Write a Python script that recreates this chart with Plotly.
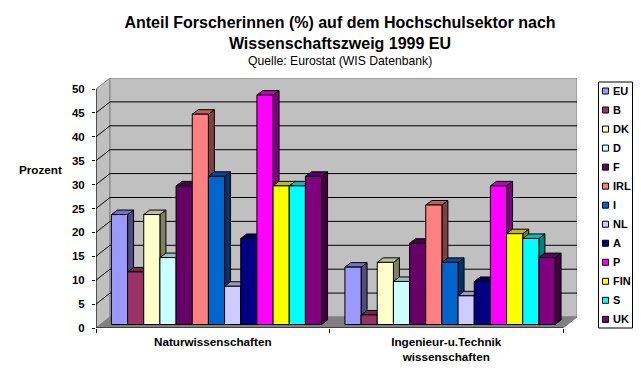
import plotly.graph_objects as go

CATEGORIES = ["Naturwissenschaften", "Ingenieur-u.Technik<br>wissenschaften"]
COUNTRIES = ["EU", "B", "DK", "D", "F", "IRL", "I", "NL", "A", "P", "FIN", "S", "UK"]
NATUR = [23, 11, 23, 14, 29, 44, 31, 8, 18, 48, 29, 29, 31]
INGENIEUR = [12, 2, 13, 9, 17, 25, 13, 6, 9, 29, 19, 18, 14]
COLORS = ["#9999FF", "#993366", "#FFFFCC", "#CCFFFF", "#660066", "#FF8080", "#0066CC",
          "#CCCCFF", "#000080", "#FF00FF", "#FFFF00", "#00FFFF", "#800080"]
Y_TICKS = list(range(0, 55, 5))

W, H = 641, 374
L, R, T, B = 96, 577, 78, 328
PX_X = 233.5            # pixels per category
PX_Y = 4.78             # pixels per percent
X_MAX = (R - L) / PX_X
Y_MAX = (B - T) / PX_Y
WALL_DX, WALL_DY = 14 / PX_X, 11 / PX_Y
BAR_DX, BAR_DY = 6 / PX_X, 4.5 / PX_Y
BASE = 3.5 / PX_Y
GROUP_SHIFT = 0.016
BARGAP = 0.1
BAR_W = (1 - BARGAP) / len(COUNTRIES)
FONT = "Liberation Sans"


def shade(hex_color, k):
    r, g, b = (int(hex_color[i:i + 2], 16) for i in (1, 3, 5))
    return f"rgb({int(r * k)},{int(g * k)},{int(b * k)})"


def poly(points, fill, line="#000000", width=1, layer="below"):
    path = "M" + " L".join(f"{x:.5f},{y:.5f}" for x, y in points) + " Z"
    return dict(type="path", path=path, xref="x", yref="y", fillcolor=fill,
                line=dict(color=line, width=width), layer=layer)


def seg(x0, y0, x1, y1, color="#000000", layer="below"):
    return dict(type="line", x0=x0, y0=y0, x1=x1, y1=y1, xref="x", yref="y",
                line=dict(color=color, width=1), layer=layer)


shapes = [
    poly([(0, 0), (WALL_DX, WALL_DY), (WALL_DX, Y_MAX), (0, 50)], "#C0C0C0", "#808080"),
    poly([(WALL_DX, WALL_DY), (X_MAX, WALL_DY), (X_MAX, Y_MAX), (WALL_DX, Y_MAX)], "#C0C0C0", "#808080"),
    poly([(0, 0), (2, 0), (2 + WALL_DX, WALL_DY), (WALL_DX, WALL_DY)], "#808080", "#808080"),
]
for v in Y_TICKS[1:-1]:
    shapes.append(seg(0, v, WALL_DX, v + WALL_DY))
    shapes.append(seg(WALL_DX, v + WALL_DY, X_MAX, v + WALL_DY))

# depth faces: painted left to right, under the bar fronts
for g, values in enumerate([NATUR, INGENIEUR]):
    centre = g + 0.5 + GROUP_SHIFT
    for i, v in enumerate(values):
        x0 = centre + (i - len(values) / 2) * BAR_W
        x1 = x0 + BAR_W
        top = v + BASE
        shapes.append(poly([(x1, BASE), (x1 + BAR_DX, BASE + BAR_DY),
                            (x1 + BAR_DX, top + BAR_DY), (x1, top)], shade(COLORS[i], 0.5)))
        shapes.append(poly([(x0, top), (x0 + BAR_DX, top + BAR_DY),
                            (x1 + BAR_DX, top + BAR_DY), (x1, top)], shade(COLORS[i], 0.75)))

shapes.append(seg(0, 0, 0, 50, layer="above"))
shapes.append(seg(0, 0, 2, 0, layer="above"))


def px(x):
    return (x - L) / (R - L)


def py(y):
    return (B - y) / (B - T)


annotations = [
    dict(text="Quelle: Eurostat (WIS Datenbank)", x=px(340), y=py(61.5), xref="paper", yref="paper",
         showarrow=False, font=dict(family=FONT, size=12.2, color="#000000"), xanchor="center", yanchor="middle"),
    dict(text="Prozent", x=px(40.5), y=py(169), xref="paper", yref="paper", showarrow=False,
         font=dict(family=FONT, size=11.7, color="#000000", weight="bold"), xanchor="center", yanchor="middle"),
]

# legend box
shapes.append(dict(type="rect", xref="paper", yref="paper", x0=px(598.5), x1=px(632.5), y0=py(82), y1=py(328),
                   fillcolor="#FFFFFF", line=dict(color="#000000", width=1), layer="above"))
for i, (name, color) in enumerate(zip(COUNTRIES, COLORS)):
    yc = 91 + i * 19.03
    shapes.append(dict(type="rect", xref="paper", yref="paper", x0=px(602.5), x1=px(608.5),
                       y0=py(yc - 3), y1=py(yc + 3), fillcolor=color,
                       line=dict(color="#000000", width=1), layer="above"))
    annotations.append(dict(text=name, x=px(611), y=py(yc), xref="paper", yref="paper", showarrow=False,
                            xanchor="left", yanchor="middle", xshift=0,
                            font=dict(family=FONT, size=11, color="#000000", weight="bold")))

fig = go.Figure()
for i, name in enumerate(COUNTRIES):
    fig.add_bar(name=name, x=[0.5 + GROUP_SHIFT, 1.5 + GROUP_SHIFT], y=[NATUR[i], INGENIEUR[i]], base=BASE,
                marker=dict(color=COLORS[i], line=dict(color="#000000", width=1)))

fig.update_layout(
    width=W, height=H, margin=dict(l=L, r=W - R, t=T, b=H - B, pad=0),
    paper_bgcolor="#FFFFFF", plot_bgcolor="#FFFFFF", showlegend=False,
    barmode="group", bargap=BARGAP, bargroupgap=0,
    title=dict(text="Anteil Forscherinnen (%) auf dem Hochschulsektor nach<br>Wissenschaftszweig 1999 EU",
               x=340 / W, xanchor="center", y=1 - 28 / H, yanchor="top",
               font=dict(family=FONT, size=16, color="#000000", weight="bold")),
    shapes=shapes, annotations=annotations,
    xaxis=dict(range=[0, X_MAX], tickvals=[0.5, 1.5], ticktext=CATEGORIES, ticks="", showgrid=False,
               zeroline=False, showline=False, ticklabelstandoff=5,
               tickfont=dict(family=FONT, size=11.7, color="#000000", weight="bold"),
               minor=dict(tickvals=[0, 1, 2], ticks="outside", ticklen=4, tickcolor="#000000", tickwidth=1, showgrid=False)),
    yaxis=dict(range=[0, Y_MAX], tickvals=Y_TICKS, ticks="outside", ticklen=3, tickcolor="#000000", tickwidth=1,
               showgrid=False, zeroline=False, showline=False, ticklabelstandoff=5,
               tickfont=dict(family=FONT, size=11.5, color="#000000", weight="bold")),
)

fig.write_html("out.html", config={"displayModeBar": False},
               post_script="document.body.style.margin='0';")
